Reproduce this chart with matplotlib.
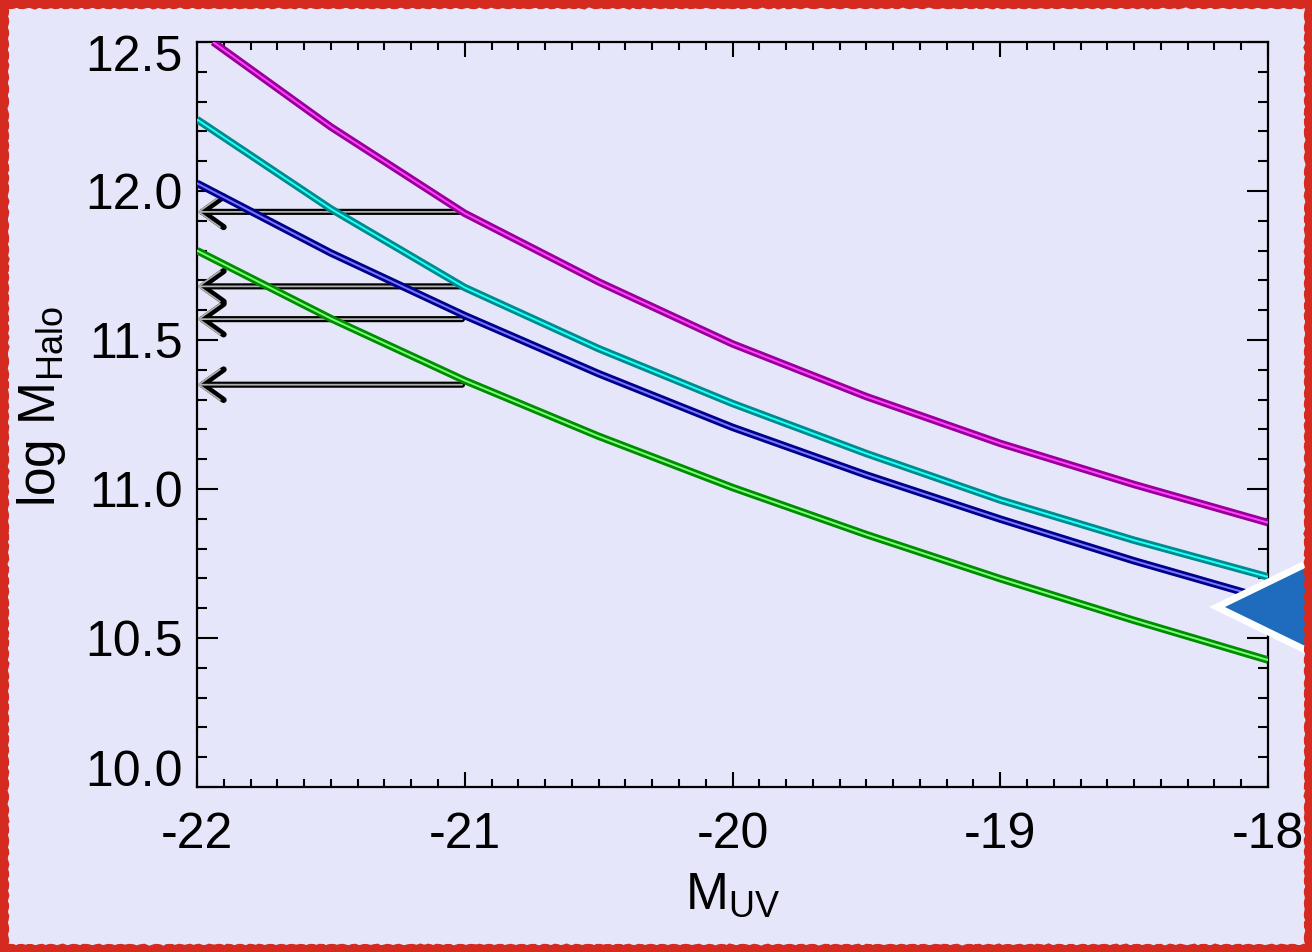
import matplotlib
matplotlib.use('Agg')
import matplotlib.pyplot as plt
from matplotlib.patches import Rectangle, Polygon
from matplotlib.ticker import MultipleLocator, FormatStrFormatter
from matplotlib.transforms import ScaledTranslation

plt.rcParams['font.family'] = ['Liberation Sans', 'DejaVu Sans']
plt.rcParams['mathtext.fontset'] = 'custom'
plt.rcParams['mathtext.rm'] = 'Liberation Sans'
plt.rcParams['axes.unicode_minus'] = False

# values
m_uv = [-22.0, -21.5, -21.0, -20.5, -20.0, -19.5, -19.0, -18.5, -18.0]
m_uv_magenta = [-21.94, -21.5, -21.0, -20.5, -20.0, -19.5, -19.0, -18.5, -18.0]
mhalo_magenta = [12.50, 12.215, 11.925, 11.695, 11.487, 11.31, 11.153, 11.015, 10.887]
mhalo_cyan = [12.24, 11.94, 11.676, 11.471, 11.287, 11.119, 10.963, 10.828, 10.705]
mhalo_navy = [12.026, 11.792, 11.582, 11.387, 11.207, 11.047, 10.899, 10.759, 10.63]
mhalo_green = [11.80, 11.572, 11.364, 11.177, 11.005, 10.847, 10.699, 10.559, 10.426]

arrow_levels = [11.93, 11.68, 11.57, 11.35]
arrow_start = -21.01
arrow_end = -22.0

x_ticks = [-22, -21, -20, -19, -18]
y_ticks = [10.0, 10.5, 11.0, 11.5, 12.0, 12.5]

bg = '#E6E6FA'

fig = plt.figure(figsize=(13.12, 9.52), dpi=100, facecolor=bg)
ax = fig.add_axes([197 / 1312, 1 - 787 / 952, 1071 / 1312, 745 / 952])
ax.set_facecolor(bg)

curves = [
    (m_uv_magenta, mhalo_magenta, '#990099', '#ff44ff'),
    (m_uv, mhalo_cyan, '#008b8b', '#22ffff'),
    (m_uv, mhalo_navy, '#00008b', '#7777ff'),
    (m_uv, mhalo_green, '#008b00', '#77ff77'),
]
for xs, ys, outer, inner in curves:
    ax.plot(xs, ys, color=outer, lw=5.4, solid_capstyle='butt', solid_joinstyle='round', zorder=3)
    ax.plot(xs, ys, color=inner, lw=1.4, solid_capstyle='butt', zorder=4)

# upper-limit arrows
for lev in arrow_levels:
    for lw, col in ((4.4, 'black'), (1.3, '#b0b0b0')):
        ax.annotate('', xy=(arrow_end, lev), xytext=(arrow_start, lev),
                    arrowprops=dict(arrowstyle='->,head_length=0.7,head_width=0.5',
                                    lw=lw, color=col, shrinkA=0, shrinkB=0,
                                    mutation_scale=22),
                    zorder=2)

ax.set_xlim(-22, -18)
ax.set_ylim(10.0, 12.5)
ax.set_xticks(x_ticks)
ax.set_yticks(y_ticks)
ax.xaxis.set_minor_locator(MultipleLocator(0.1))
ax.yaxis.set_minor_locator(MultipleLocator(0.1))
ax.xaxis.set_major_formatter(FormatStrFormatter('%d'))
ax.yaxis.set_major_formatter(FormatStrFormatter('%.1f'))

for s in ax.spines.values():
    s.set_linewidth(1.6)
    s.set_color('black')

ax.tick_params(which='both', direction='in', top=True, right=True, width=1.5, colors='black')
ax.tick_params(axis='x', which='major', length=11, pad=18, labelsize=36)
ax.tick_params(axis='x', which='minor', length=5.8)
ax.tick_params(axis='y', which='major', length=15, pad=10, labelsize=36)
ax.tick_params(axis='y', which='minor', length=7.5)

# nudge the end y labels like the original
ylabels = ax.yaxis.get_major_ticks()
lab = ylabels[0].label1
lab.set_transform(lab.get_transform() + ScaledTranslation(0, 0.19, fig.dpi_scale_trans))
lab = ylabels[-1].label1
lab.set_transform(lab.get_transform() + ScaledTranslation(0, -0.11, fig.dpi_scale_trans))

ax.set_xlabel(r'M$_{\mathregular{UV}}$', fontsize=37)
ax.xaxis.set_label_coords(0.5, -0.112)
ax.set_ylabel(r'log M$_{\mathregular{Halo}}$', fontsize=37)
ax.yaxis.set_label_coords(-0.12, 0.51)

# blue pointer triangle on the right
tri = Polygon([(1217 / 1312, 1 - 607 / 952), (1400 / 1312, 1 - 518 / 952),
               (1400 / 1312, 1 - 696 / 952)], closed=True, transform=fig.transFigure,
              facecolor='#1f6bbd', edgecolor='white', lw=5, joinstyle='miter', zorder=10)
fig.add_artist(tri)

# rough red frame
frame = Rectangle((0, 0), 1, 1, transform=fig.transFigure, fill=False,
                  edgecolor='#d42a1f', lw=11, zorder=11)
frame.set_sketch_params(1.0, 12, 2)
fig.add_artist(frame)

fig.savefig('out.png', dpi=100, facecolor=bg)
